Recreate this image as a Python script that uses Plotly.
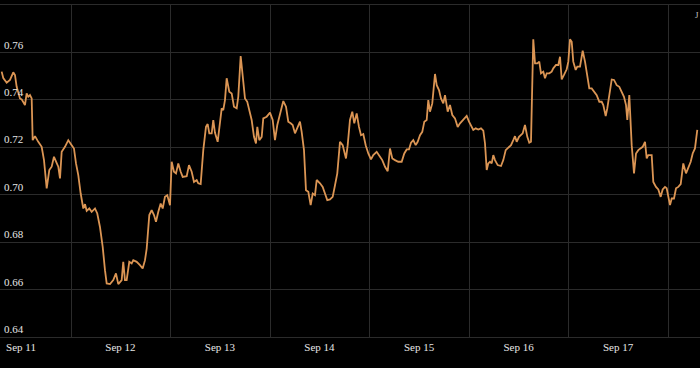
import pandas as pd
import plotly.graph_objects as go

# hours since 2023-09-11 00:00
hours = [-0.80, -0.41, 0.41, 1.21, 2.00, 2.41, 2.82, 3.21, 3.62, 4.03, 4.41, 4.82, 5.23, 5.62, 6.03, 6.44, 6.68, 7.24, 8.03, 8.85,
         9.41, 10.06, 10.69, 11.26, 11.82, 12.47, 12.86, 13.27, 13.68, 14.47, 15.27, 16.09, 16.64, 17.13, 17.68, 18.26, 18.89, 19.30, 19.71, 20.33,
         20.91, 21.71, 22.26, 22.91, 23.57, 24.12, 24.53, 25.33, 26.12, 26.77, 27.33, 28.15, 28.53, 28.94, 29.35, 29.98, 30.56, 30.95, 31.77, 32.56,
         33.21, 33.77, 34.18, 34.81, 35.38, 35.94, 36.42, 36.98, 37.55, 38.04, 38.59, 39.15, 39.80, 40.21, 40.76, 41.25, 41.80, 42.38, 42.86, 43.83,
         44.38, 45.03, 45.59, 46.24, 46.62, 47.20, 47.83, 48.48, 48.89, 49.28, 49.86, 50.24, 50.65, 51.30, 51.86, 52.27, 52.65, 53.06, 53.47, 54.10,
         54.68, 55.23, 55.89, 56.27, 56.85, 57.48, 57.89, 58.44, 58.92, 59.50, 60.06, 60.54, 60.86, 61.34, 61.92, 62.30, 63.12, 63.92, 64.57, 65.12,
         65.68, 66.33, 67.13, 67.78, 68.33, 68.91, 69.39, 69.95, 70.50, 71.15, 71.56, 72.12, 72.60, 73.16, 73.73, 74.22, 74.77, 75.18, 75.98, 76.63,
         77.18, 77.74, 78.39, 79.04, 79.60, 80.15, 80.80, 81.45, 82.25, 82.66, 83.21, 83.77, 84.25, 84.83, 85.38, 85.87, 86.42, 87.00, 87.63, 88.28,
         88.83, 89.65, 90.45, 91.00, 91.66, 92.31, 92.86, 93.42, 94.07, 94.86, 95.68, 96.31, 96.89, 97.44, 97.93, 98.48, 99.06, 99.54, 100.10, 100.65,
         101.14, 101.71, 102.10, 102.51, 103.06, 103.72, 104.13, 104.68, 105.16, 105.72, 106.13, 106.78, 107.33, 107.89, 108.54, 109.19, 109.75, 110.54, 111.36, 111.92,
         112.57, 112.95, 113.53, 114.16, 114.81, 115.37, 115.78, 116.19, 116.57, 116.98, 117.39, 117.78, 118.19, 118.84, 119.64, 120.19, 120.77, 121.40, 122.05, 122.60,
         123.01, 123.42, 123.98, 124.87, 125.42, 125.98, 126.46, 126.87, 127.42, 127.84, 128.39, 128.87, 129.28, 129.84, 130.25, 130.66, 131.28, 131.86, 132.25, 132.90,
         133.46, 133.87, 134.28, 134.83, 135.48, 135.87, 136.28, 136.69, 137.07, 137.65, 138.04, 138.69, 139.34, 139.90, 140.31, 140.93, 141.51, 142.07, 142.72, 143.35,
         143.92, 144.31, 144.89, 145.27, 145.76, 146.34, 146.89, 147.54, 148.17, 148.75, 149.30, 149.79, 150.10, 150.58, 151.16, 151.72, 152.20, 152.75, 153.33, 153.81,
         154.37, 154.78, 155.16, 155.98, 156.37, 157.02, 157.58, 158.15, 158.63, 159.19, 159.60, 159.99, 160.40, 160.81, 161.36, 161.85, 162.40, 162.98, 163.60, 164.26,
         164.80, 165.39, 165.87, 166.42, 166.98]

rate = [0.7519, 0.7492, 0.7472, 0.7484, 0.7516, 0.7505, 0.7455, 0.7434, 0.7406, 0.7402, 0.7392, 0.7378, 0.7427, 0.7413, 0.7420, 0.7406, 0.7230, 0.7247, 0.7223, 0.7202,
        0.7146, 0.7027, 0.7104, 0.7118, 0.7160, 0.7132, 0.7118, 0.7069, 0.7181, 0.7202, 0.7230, 0.7209, 0.7195, 0.7132, 0.7083, 0.7005, 0.6942, 0.6960, 0.6932, 0.6942,
        0.6928, 0.6942, 0.6921, 0.6864, 0.6780, 0.6682, 0.6626, 0.6623, 0.6640, 0.6668, 0.6623, 0.6640, 0.6717, 0.6640, 0.6640, 0.6717, 0.6710, 0.6724, 0.6717, 0.6703,
        0.6689, 0.6724, 0.6773, 0.6914, 0.6935, 0.6914, 0.6886, 0.6928, 0.6963, 0.6942, 0.6991, 0.6998, 0.6956, 0.7139, 0.7097, 0.7090, 0.7132, 0.7097, 0.7075, 0.7078,
        0.7125, 0.7097, 0.7054, 0.7062, 0.7048, 0.7045, 0.7188, 0.7286, 0.7298, 0.7259, 0.7259, 0.7315, 0.7261, 0.7223, 0.7322, 0.7364, 0.7357, 0.7399, 0.7491, 0.7434,
        0.7427, 0.7371, 0.7364, 0.7413, 0.7585, 0.7484, 0.7406, 0.7392, 0.7357, 0.7315, 0.7244, 0.7216, 0.7286, 0.7230, 0.7244, 0.7322, 0.7329, 0.7346, 0.7315, 0.7230,
        0.7294, 0.7336, 0.7395, 0.7371, 0.7308, 0.7301, 0.7294, 0.7259, 0.7284, 0.7308, 0.7265, 0.7188, 0.7019, 0.7012, 0.6956, 0.7005, 0.6998, 0.7062, 0.7048, 0.7033,
        0.7005, 0.6977, 0.6980, 0.6991, 0.7040, 0.7090, 0.7223, 0.7209, 0.7153, 0.7209, 0.7315, 0.7350, 0.7301, 0.7343, 0.7286, 0.7251, 0.7256, 0.7209, 0.7174, 0.7149,
        0.7167, 0.7181, 0.7160, 0.7146, 0.7118, 0.7099, 0.7195, 0.7153, 0.7146, 0.7139, 0.7139, 0.7174, 0.7191, 0.7191, 0.7219, 0.7230, 0.7209, 0.7223, 0.7251, 0.7265,
        0.7308, 0.7315, 0.7399, 0.7350, 0.7385, 0.7509, 0.7462, 0.7441, 0.7406, 0.7385, 0.7420, 0.7350, 0.7378, 0.7336, 0.7322, 0.7286, 0.7301, 0.7315, 0.7332, 0.7308,
        0.7286, 0.7273, 0.7280, 0.7275, 0.7280, 0.7270, 0.7216, 0.7104, 0.7132, 0.7139, 0.7132, 0.7167, 0.7146, 0.7125, 0.7121, 0.7146, 0.7188, 0.7200, 0.7209, 0.7230,
        0.7247, 0.7223, 0.7244, 0.7259, 0.7294, 0.7244, 0.7219, 0.7223, 0.7655, 0.7554, 0.7554, 0.7561, 0.7512, 0.7519, 0.7491, 0.7512, 0.7512, 0.7519, 0.7533, 0.7547,
        0.7547, 0.7582, 0.7486, 0.7505, 0.7529, 0.7561, 0.7655, 0.7645, 0.7561, 0.7526, 0.7540, 0.7540, 0.7607, 0.7561, 0.7512, 0.7448, 0.7448, 0.7434, 0.7420, 0.7392,
        0.7392, 0.7378, 0.7332, 0.7364, 0.7413, 0.7486, 0.7484, 0.7462, 0.7455, 0.7434, 0.7413, 0.7378, 0.7315, 0.7420, 0.7209, 0.7090, 0.7174, 0.7188, 0.7195, 0.7202,
        0.7223, 0.7153, 0.7167, 0.7167, 0.7054, 0.7033, 0.7022, 0.6991, 0.7022, 0.7033, 0.7027, 0.6991, 0.6956, 0.6984, 0.6984, 0.7027, 0.7033, 0.7045, 0.7132, 0.7090,
        0.7111, 0.7139, 0.7174, 0.7195, 0.7273]

y_ticks = [0.64, 0.66, 0.68, 0.70, 0.72, 0.74, 0.76]
y_tick_labels = ["0.64", "0.66", "0.68", "0.70", "0.72", "0.74", "0.76"]
x_tick_dates = ["2023-09-11", "2023-09-12", "2023-09-13", "2023-09-14",
                "2023-09-15", "2023-09-16", "2023-09-17"]
x_tick_labels = ["Sep 11", "Sep 12", "Sep 13", "Sep 14", "Sep 15", "Sep 16", "Sep 17"]

start = pd.Timestamp("2023-09-11 00:00")
times = start + pd.to_timedelta(hours, unit="h")

GRID = "#2b2b2b"
FONT = "Liberation Serif"
Y_RANGE = [0.64, 0.78]

fig = go.Figure()
fig.add_trace(go.Scatter(x=times, y=rate, mode="lines",
                         line=dict(color="#DB9554", width=1.8),
                         hoverinfo="x+y", showlegend=False))
# transparent copy on the label axis so that its tick labels are drawn
fig.add_trace(go.Scatter(x=times, y=rate, mode="lines", yaxis="y2",
                         line=dict(color="rgba(0,0,0,0)", width=0),
                         hoverinfo="skip", showlegend=False))

fig.update_layout(
    width=700, height=368,
    margin=dict(l=0, r=0, t=5, b=31, autoexpand=False),
    paper_bgcolor="#000000", plot_bgcolor="#000000",
    font=dict(family=FONT, size=11, color="#e6e6e6"),
    xaxis=dict(
        type="date", automargin=False, anchor="y",
        range=[pd.Timestamp("2023-09-10 22:48"), pd.Timestamp("2023-09-17 23:38")],
        tickvals=x_tick_dates, ticktext=x_tick_labels,
        showgrid=False, ticks="", ticklabelposition="outside",
        ticklabelshift=16, ticklabeloverflow="allow",
        tickfont=dict(family=FONT, size=11, color="#e6e6e6"),
        showline=True, mirror=True, linecolor=GRID, linewidth=1,
        zeroline=False,
        minor=dict(tick0="2023-09-11 16:00", dtick=86400000, showgrid=True,
                   gridcolor=GRID, gridwidth=1, ticks=""),
    ),
    yaxis=dict(
        range=Y_RANGE, automargin=False,
        tickvals=y_ticks, showticklabels=False,
        showgrid=True, gridcolor=GRID, gridwidth=1,
        zeroline=False, showline=False, ticks="",
    ),
    yaxis2=dict(
        range=Y_RANGE, automargin=False, overlaying="y", side="right",
        anchor="free", position=0,
        tickvals=y_ticks, ticktext=y_tick_labels,
        ticklabelposition="outside top", ticklabelstandoff=3,
        ticklabeloverflow="allow",
        showgrid=False, zeroline=False, showline=False, ticks="",
        tickfont=dict(family=FONT, size=11, color="#e6e6e6"),
    ),
    annotations=[dict(text="J", xref="paper", yref="paper", x=0.99, y=0.97,
                      xanchor="left", yanchor="middle", showarrow=False,
                      font=dict(family=FONT, size=9, color="#bbbbbb"))],
)

fig.write_html("out.html", config={"displayModeBar": False},
               post_script="document.body.style.margin='0';document.body.style.background='#000';")
